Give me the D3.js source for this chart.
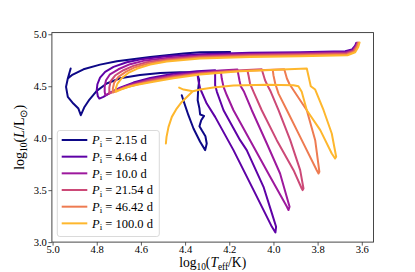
<!DOCTYPE html>
<html>
<head>
<meta charset="utf-8">
<script src="https://cdn.jsdelivr.net/npm/d3@7"></script>
<style>
  html, body { margin: 0; padding: 0; background: #fff; }
  svg { display: block; }
  text { font-family: "Liberation Serif", "Times New Roman", serif; fill: #000; }
</style>
</head>
<body>
<svg id="chart" width="415" height="272"></svg>
<script>
// ---------- DATA (log10 Teff, log10 L) ----------
const periods = ["2.15", "4.64", "10.0", "21.54", "46.42", "100.0"];

const track_2_15 = [
  [4.196,4.830],[4.332,4.827],[4.407,4.814],[4.558,4.782],[4.709,4.740],[4.785,4.708],[4.860,4.663],
  [4.913,4.606],[4.931,4.574],[4.918,4.670],[4.931,4.574],[4.939,4.494],[4.931,4.397],[4.906,4.333],
  [4.883,4.285],[4.872,4.221],[4.857,4.295],[4.833,4.372],[4.800,4.455],[4.755,4.526],[4.694,4.577],
  [4.604,4.609],[4.513,4.628],[4.423,4.635],[4.362,4.631],[4.344,4.615],[4.336,4.558],[4.341,4.462],
  [4.343,4.365],[4.335,4.285],[4.332,4.228],[4.314,4.215],[4.327,4.173],[4.335,4.115],[4.323,4.071],
  [4.308,4.019],[4.302,3.949],[4.309,3.885],[4.332,3.965],[4.362,4.093],[4.385,4.221],[4.407,4.359],
  [4.415,4.413]
];

const track_4_64 = [
  [3.625,4.917],[3.630,4.891],[3.645,4.853],[3.675,4.837],[3.879,4.827],[4.106,4.821],[4.332,4.808],
  [4.483,4.788],[4.589,4.763],[4.664,4.731],[4.724,4.686],[4.762,4.638],[4.785,4.583],[4.797,4.519],
  [4.800,4.462],[4.795,4.404],[4.788,4.381],
  [4.770,4.397],[4.740,4.436],[4.694,4.487],[4.634,4.535],[4.558,4.580],[4.453,4.619],[4.347,4.644],[4.264,4.654],
  [4.264,4.510],[4.256,4.446],[4.226,4.269],[4.151,3.981],[4.121,3.885],[4.045,3.532],[4.007,3.276],[3.988,3.147],[3.991,3.093],
  [4.007,3.147],[4.090,3.500],[4.181,3.885],[4.264,4.205],[4.302,4.333],[4.332,4.478],[4.340,4.558],[4.344,4.615]
];

const track_10_0 = [
  [3.622,4.917],[3.627,4.888],[3.641,4.846],[3.671,4.827],[3.879,4.817],[4.106,4.811],[4.332,4.795],
  [4.483,4.772],[4.589,4.744],[4.649,4.712],[4.702,4.663],[4.740,4.615],[4.758,4.558],[4.764,4.500],
  [4.764,4.446],[4.761,4.413],
  [4.732,4.446],[4.687,4.487],[4.634,4.526],[4.558,4.567],[4.453,4.606],[4.332,4.635],[4.241,4.651],[4.163,4.660],
  [4.154,4.558],[4.148,4.500],[4.133,4.446],[4.098,4.269],[4.030,3.949],[3.970,3.660],[3.927,3.340],[3.932,3.308],
  [3.939,3.340],[4.015,3.628],[4.106,3.981],[4.181,4.269],[4.211,4.413],[4.226,4.494],[4.234,4.574],[4.238,4.638]
];

const track_21_54 = [
  [3.618,4.920],[3.624,4.885],[3.638,4.840],[3.668,4.817],[3.879,4.808],[4.106,4.801],[4.332,4.785],
  [4.483,4.760],[4.574,4.731],[4.634,4.696],[4.679,4.654],[4.717,4.603],[4.737,4.548],[4.743,4.487],[4.743,4.429],
  [4.717,4.455],[4.679,4.487],[4.626,4.519],[4.558,4.558],[4.453,4.596],[4.332,4.625],[4.211,4.647],[4.053,4.663],
  [4.038,4.558],[4.022,4.487],[4.012,4.446],[3.977,4.269],[3.924,3.981],[3.879,3.692],[3.864,3.516],[3.868,3.500],
  [3.872,3.516],[3.909,3.692],[3.985,3.981],[4.053,4.269],[4.090,4.446],[4.106,4.526],[4.113,4.606],[4.118,4.654]
];

const track_46_42 = [
  [3.615,4.920],[3.621,4.881],[3.635,4.833],[3.666,4.808],[3.879,4.798],[4.106,4.792],[4.332,4.776],
  [4.483,4.747],[4.566,4.718],[4.626,4.683],[4.667,4.641],[4.702,4.590],[4.721,4.535],[4.727,4.478],[4.727,4.439],
  [4.702,4.462],[4.664,4.490],[4.619,4.516],[4.551,4.548],[4.453,4.587],[4.332,4.619],[4.181,4.644],[3.951,4.663],
  [3.939,4.574],[3.927,4.519],[3.879,4.365],[3.849,4.269],[3.811,3.981],[3.792,3.676],[3.796,3.660],
  [3.804,3.692],[3.879,4.013],[3.939,4.269],[3.977,4.429],[3.992,4.526],[4.000,4.606],[4.003,4.654]
];

const track_100_0 = [
  [3.610,4.920],[3.616,4.878],[3.630,4.827],[3.665,4.798],[3.879,4.788],[4.106,4.782],[4.332,4.766],
  [4.483,4.737],[4.558,4.708],[4.616,4.670],[4.657,4.628],[4.687,4.577],[4.706,4.526],[4.714,4.478],[4.714,4.446],
  [4.691,4.468],[4.652,4.497],[4.611,4.516],[4.543,4.542],[4.453,4.577],[4.332,4.612],[4.151,4.644],[3.849,4.670],
  [3.837,4.558],[3.831,4.500],[3.811,4.468],[3.773,4.269],[3.736,4.045],[3.716,3.821],[3.721,3.804],
  [3.736,3.853],[3.788,4.077],[3.849,4.269],[3.872,4.446],[3.887,4.500],[3.909,4.510],
  [4.030,4.513],[4.181,4.506],[4.272,4.487],[4.332,4.468],[4.365,4.452],
  [4.407,4.468],[4.427,4.487],[4.407,4.468],[4.365,4.452],
  [4.392,4.397],[4.415,4.349],[4.438,4.285],[4.460,4.205],[4.475,4.109],[4.484,4.013],[4.487,3.949]
];

const tracks = [track_2_15, track_4_64, track_10_0, track_21_54, track_46_42, track_100_0];

const xTicks = [5.0, 4.8, 4.6, 4.4, 4.2, 4.0, 3.8, 3.6];
const yTicks = [3.0, 3.5, 4.0, 4.5, 5.0];

// ---------- LAYOUT ----------
const svg = d3.select("#chart");
const mLeft = 51.9, mRight = 373.5, mTop = 32.6, mBottom = 242.1;

const x = d3.scaleLinear().domain([5.003, 3.547]).range([mLeft, mRight]);
const y = d3.scaleLinear().domain([3.0, 5.016]).range([mBottom, mTop]);
const color = i => d3.interpolatePlasma(i * 0.168);

// clip
svg.append("defs").append("clipPath").attr("id", "clip")
  .append("rect").attr("x", mLeft).attr("y", mTop).attr("width", mRight - mLeft).attr("height", mBottom - mTop);

// tracks
const line = d3.line().x(d => x(d[0])).y(d => y(d[1]));
const g = svg.append("g").attr("clip-path", "url(#clip)");
tracks.forEach((t, i) => {
  g.append("path").datum(t)
    .attr("d", line)
    .attr("fill", "none")
    .attr("stroke", color(i))
    .attr("stroke-width", 2)
    .attr("stroke-linejoin", "round")
    .attr("stroke-linecap", "round");
});

// axes
const xAxis = svg.append("g").attr("transform", `translate(0,${mBottom})`)
  .call(d3.axisBottom(x).tickValues(xTicks).tickFormat(d3.format(".1f")).tickSize(3.5).tickSizeOuter(0).tickPadding(0.3));
const yAxis = svg.append("g").attr("transform", `translate(${mLeft},0)`)
  .call(d3.axisLeft(y).tickValues(yTicks).tickFormat(d3.format(".1f")).tickSize(3.5).tickSizeOuter(0).tickPadding(1.5));
[xAxis, yAxis].forEach(a => {
  a.attr("font-family", null).attr("font-size", null);
  a.select(".domain").remove();
  a.selectAll("line").attr("stroke", "#333").attr("stroke-width", 0.8);
  a.selectAll("text").style("font-family", "'Liberation Serif', serif").attr("font-size", 10.6).attr("fill", "#000");
});

// frame
svg.append("rect").attr("x", mLeft).attr("y", mTop).attr("width", mRight - mLeft).attr("height", mBottom - mTop)
  .attr("fill", "none").attr("stroke", "#333").attr("stroke-width", 0.9);

// axis labels
const xl = svg.append("text").attr("x", (mLeft + mRight) / 2).attr("y", 267.3)
  .attr("text-anchor", "middle").attr("font-size", 13.6);
xl.append("tspan").text("log");
xl.append("tspan").attr("font-size", 9.3).attr("dy", 2.6).text("10");
xl.append("tspan").attr("dy", -2.6).text("(");
xl.append("tspan").attr("font-style", "italic").text("T");
xl.append("tspan").attr("font-size", 9.3).attr("dy", 2.6).text("eff");
xl.append("tspan").attr("dy", -2.6).text("/K)");

const yl = svg.append("text").attr("transform", `translate(23.5,${(mTop + mBottom) / 2}) rotate(-90)`)
  .attr("text-anchor", "middle").attr("font-size", 14);
yl.append("tspan").text("log");
yl.append("tspan").attr("font-size", 9.5).attr("dy", 3).text("10");
yl.append("tspan").attr("dy", -3).text("(");
yl.append("tspan").attr("font-style", "italic").text("L");
yl.append("tspan").text("/L");
yl.append("tspan").attr("font-size", 9.5).attr("dy", 3).text("⊙");
yl.append("tspan").attr("dy", -3).text(")");

// legend
const lg = svg.append("g");
lg.append("rect").attr("x", 57.3).attr("y", 130.5).attr("width", 102).attr("height", 106)
  .attr("rx", 2.5).attr("fill", "#fff").attr("fill-opacity", 0.8)
  .attr("stroke", "#d0d0d0").attr("stroke-width", 0.8);
periods.forEach((p, i) => {
  const cy = 140 + i * 16.67;
  lg.append("line").attr("x1", 61.7).attr("x2", 87.3).attr("y1", cy).attr("y2", cy)
    .attr("stroke", color(i)).attr("stroke-width", 2);
  const t = lg.append("text").attr("x", 92).attr("y", cy + 4.2).attr("font-size", 12.5);
  t.append("tspan").attr("font-style", "italic").text("P");
  t.append("tspan").attr("font-size", 9).attr("dy", 2.5).text("i");
  t.append("tspan").attr("dy", -2.5).text(" = " + p + " d");
});
</script>
</body>
</html>
